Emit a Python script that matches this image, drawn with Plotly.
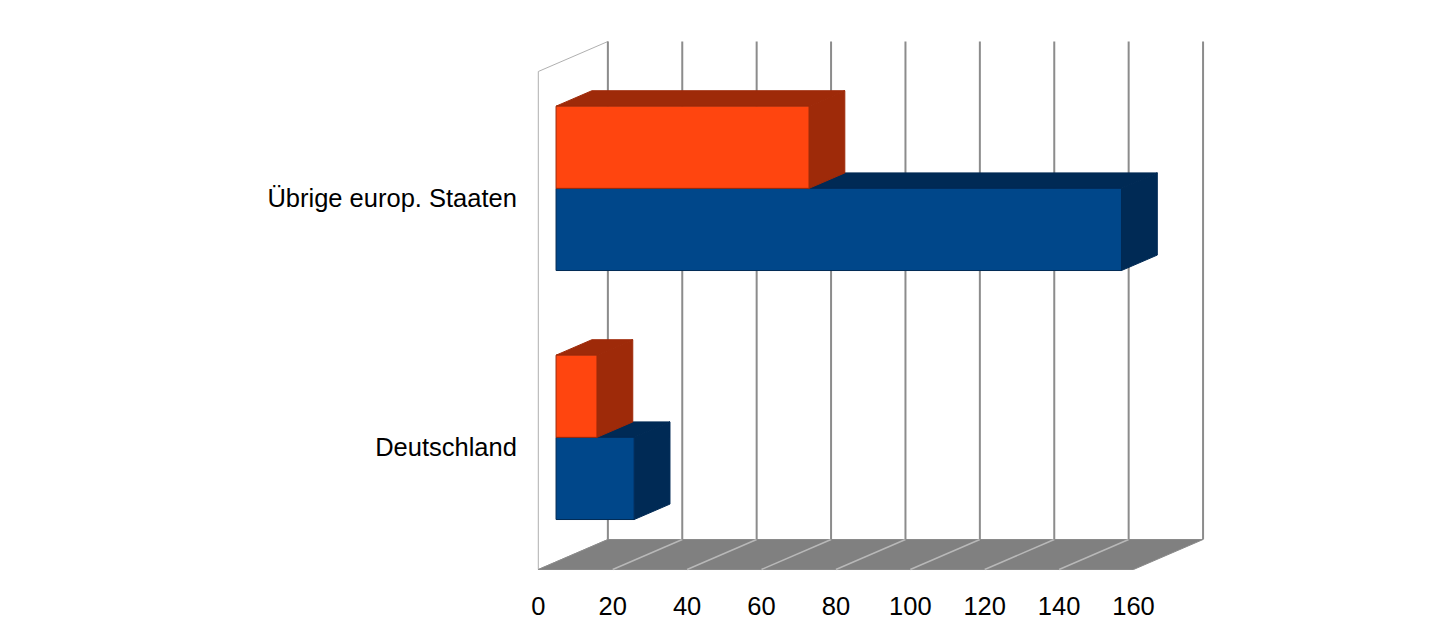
import plotly.graph_objects as go

# Categories and series values
categories = ["Deutschland", "Übrige europ. Staaten"]
series_blue = [21, 152]     # lower bar of each category
series_orange = [11, 68]    # upper bar of each category
x_ticks = [0, 20, 40, 60, 80, 100, 120, 140, 160]

# Oblique projection of the depth axis (in data units of x and y)
DX, DY = 18.7, 0.1205
D_FRONT, D_BACK = 0.255, 0.77   # bar depth range inside the box
HALF = 0.33                     # bar height in category units
X_MAX = x_ticks[-1]
N_CAT = len(categories)

BLUE_FRONT, BLUE_DARK = "#00478a", "#002a55"
ORANGE_FRONT, ORANGE_DARK = "#ff450f", "#9e2a09"


def proj(x, y, d):
    return x + d * DX, y + d * DY


def poly(points, fill, line_color, width=1, name=None):
    xs = [p[0] for p in points] + [points[0][0]]
    ys = [p[1] for p in points] + [points[0][1]]
    return go.Scatter(
        x=xs, y=ys, mode="lines", fill="toself", fillcolor=fill,
        line=dict(color=line_color, width=width),
        hoverinfo="skip" if name is None else "name", name=name or "",
        showlegend=False,
    )


def line(x0, y0, x1, y1, color, width):
    return go.Scatter(
        x=[x0, x1], y=[y0, y1], mode="lines",
        line=dict(color=color, width=width),
        hoverinfo="skip", showlegend=False,
    )


fig = go.Figure()

# Left side wall
fig.add_trace(poly([proj(0, 0, 0), proj(0, N_CAT, 0), proj(0, N_CAT, 1), proj(0, 0, 1)],
                   "white", "#b0b0b0", 1))

# Floor
fig.add_trace(poly([proj(0, 0, 0), proj(X_MAX, 0, 0), proj(X_MAX, 0, 1), proj(0, 0, 1)],
                   "#808080", "#8a8a8a", 1))
for v in x_ticks[1:-1]:
    x0, y0 = proj(v, 0, 0)
    x1, y1 = proj(v, 0, 1)
    fig.add_trace(line(x0, y0, x1, y1, "#b8b8b8", 1.5))

# Back wall grid lines
for v in x_ticks:
    x0, y0 = proj(v, 0, 1)
    x1, y1 = proj(v, N_CAT, 1)
    fig.add_trace(line(x0, y0, x1, y1, "#8c8c8c", 2))


def bar(value, y0, y1, front, dark, name):
    f0 = proj(0, y0, D_FRONT)
    f1 = proj(value, y0, D_FRONT)
    f2 = proj(value, y1, D_FRONT)
    f3 = proj(0, y1, D_FRONT)
    b1 = proj(value, y0, D_BACK)
    b2 = proj(value, y1, D_BACK)
    b3 = proj(0, y1, D_BACK)
    return [
        poly([f3, f2, b2, b3], dark, dark, 1),          # top face
        poly([f1, b1, b2, f2], dark, dark, 1),          # right face
        poly([f0, f1, f2, f3], front, dark, 1, name),   # front face
    ]


for i, cat in enumerate(categories):
    c = i + 0.5
    for tr in bar(series_blue[i], c - HALF, c, BLUE_FRONT, BLUE_DARK, f"{cat}: {series_blue[i]}"):
        fig.add_trace(tr)
    for tr in bar(series_orange[i], c, c + HALF, ORANGE_FRONT, ORANGE_DARK, f"{cat}: {series_orange[i]}"):
        fig.add_trace(tr)

# Pixel scale: 3.72 px per value unit, 249 px per category
PX_X, PX_Y = 3.72, 249.0
L, R, T, B = 523, 210, 30, 48
W, H = 1430 - L - R, 628 - T - B
x0_px, y0_px = 538.3 - L, 580 - 569.5
fig.update_layout(
    width=1430, height=628,
    margin=dict(l=L, r=R, t=T, b=B),
    paper_bgcolor="white", plot_bgcolor="white",
    font=dict(family="Liberation Sans, Arial, sans-serif", size=25.5, color="black"),
    xaxis=dict(
        range=[-x0_px / PX_X, (W - x0_px) / PX_X],
        tickvals=x_ticks, ticktext=[str(v) for v in x_ticks],
        showgrid=False, zeroline=False, showline=False,
        ticks="outside", ticklen=3, tickcolor="rgba(0,0,0,0)",
        automargin=False, fixedrange=True,
    ),
    yaxis=dict(
        range=[-y0_px / PX_Y, (H - y0_px) / PX_Y],
        tickvals=[i + 0.49 for i in range(N_CAT)], ticktext=categories,
        showgrid=False, zeroline=False, showline=False,
        ticks="outside", ticklen=0, tickcolor="rgba(0,0,0,0)",
        automargin=False, fixedrange=True,
    ),
    showlegend=False,
)

fig.write_html("out.html")
